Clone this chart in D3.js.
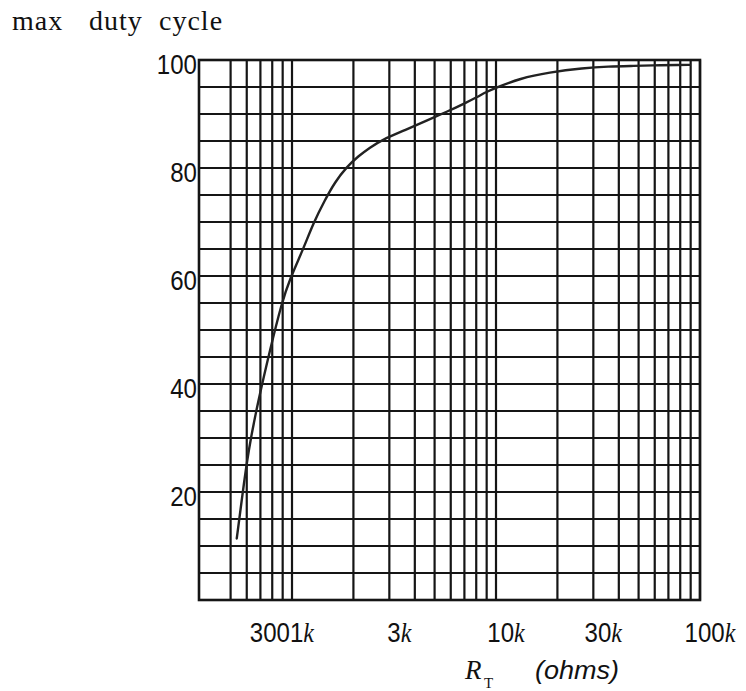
<!DOCTYPE html>
<html><head><meta charset="utf-8">
<script src="https://cdn.jsdelivr.net/npm/d3@7"></script>
<style>body{margin:0;background:#fff}</style>
</head><body>
<svg id="c" width="746" height="691"></svg>
<script>
// ---- data ----
const rtOhms = [536, 567, 611, 684, 780, 890, 977, 1136, 1272, 1451, 1624, 1854, 2113, 2412, 2753, 3580, 4630, 5733, 7050, 8130, 9000, 9890, 13110, 18200, 26700, 35800, 45900, 58200, 79800, 89300];
const dutyPct = [11.4, 18.5, 27.8, 37.0, 46.3, 55.0, 59.5, 65.0, 69.8, 74.1, 77.4, 80.2, 82.2, 83.8, 85.2, 87.0, 88.9, 90.4, 92.0, 93.2, 94.1, 94.8, 96.6, 97.7, 98.5, 98.8, 98.9, 99.0, 99.1, 99.1];
const xTickValues = [1000, 3000, 10000, 30000, 100000];
const xTickText = ["1", "3", "10", "30", "100"];
const yTickValues = [20, 40, 60, 80, 100];
const xGridValues = [500,600,700,800,900,1000,2000,3000,4000,5000,6000,7000,8000,9000,10000,20000,30000,40000,50000,60000,70000,80000,90000,100000];
const yGridValues = d3.range(0, 101, 5);

const svg = d3.select("#c");
const L = 199, R = 700, T = 60, B = 600;
const x = d3.scaleLog().domain([350, 100000]).range([L, R]);
const y = d3.scaleLinear().domain([0, 100]).range([B, T]);
const ink = "#151515";
const numFont = "'Liberation Sans',Arial,sans-serif";
const serif = "'Liberation Serif','Times New Roman',serif";
const squeeze = 0.86;

// grid
const g = svg.append("g").attr("stroke", ink).attr("stroke-width", 2.2);
g.selectAll("line.h").data(yGridValues).join("line")
  .attr("x1", L).attr("x2", R).attr("y1", d => y(d)).attr("y2", d => y(d));
g.selectAll("line.v").data(xGridValues).join("line")
  .attr("y1", T).attr("y2", B).attr("x1", d => x(d)).attr("x2", d => x(d));
svg.append("rect").attr("x", L).attr("y", T).attr("width", R - L).attr("height", B - T)
  .attr("fill", "none").attr("stroke", ink).attr("stroke-width", 2.6);

// curve
const line = d3.line().x((d, i) => x(rtOhms[i])).y(d => y(d)).curve(d3.curveBasis);
svg.append("path").attr("d", line(dutyPct)).attr("fill", "none")
  .attr("stroke", "#222").attr("stroke-width", 2.4).attr("stroke-linecap", "round");

// y labels
svg.selectAll("text.y").data(yTickValues).join("text")
  .attr("transform", d => `translate(${L - 2},${y(d) + 14}) scale(${squeeze},1)`)
  .attr("text-anchor", "end").attr("font-family", numFont).attr("font-size", 28)
  .attr("fill", "#111").text(d => d);

// x labels
const xl = svg.append("g").attr("font-size", 28).attr("fill", "#111");
xTickValues.forEach((v, i) => {
  const t = xl.append("text").attr("transform", `translate(${x(v) + 10},642) scale(${squeeze},1)`)
    .attr("text-anchor", "middle");
  t.append("tspan").attr("font-family", numFont).text(xTickText[i]);
  t.append("tspan").attr("font-family", serif).attr("font-style", "italic").text("k");
});
// "300" label sits right before the 1k label
const k1 = xl.select("text").node().getBBox();
xl.append("text").attr("transform", `translate(${x(1000) + 10 + k1.x * squeeze},642) scale(${squeeze},1)`)
  .attr("text-anchor", "end").attr("font-family", numFont).text("300");

// axis title
const at = svg.append("g").attr("fill", "#111");
at.append("text").attr("x", 465).attr("y", 679).attr("font-family", serif)
  .attr("font-style", "italic").attr("font-size", 27).text("R");
at.append("text").attr("x", 484).attr("y", 688).attr("font-family", serif)
  .attr("font-size", 15).text("T");
at.append("text").attr("transform", "translate(535,679) scale(1.04,1)").attr("font-family", "'Liberation Sans',Arial,sans-serif")
  .attr("font-style", "italic").attr("font-size", 26).text("(ohms)");

// chart title
const tt = svg.append("g").attr("font-family", serif).attr("font-size", 28).attr("fill", "#111");
[["max", 12], ["duty", 89], ["cycle", 159]].forEach(([w, px]) =>
  tt.append("text").attr("x", px).attr("y", 30).attr("letter-spacing", 1).text(w));
</script>
</body></html>
